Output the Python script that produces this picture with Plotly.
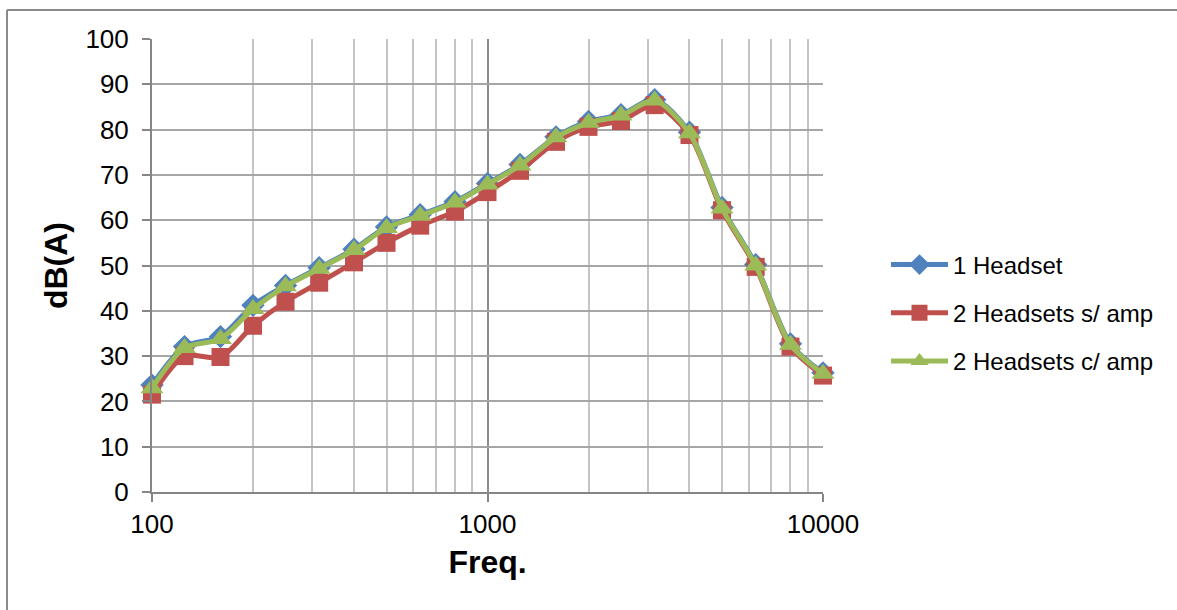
import plotly.graph_objects as go

freq = [100, 125, 160, 200, 250, 315, 400, 500, 630, 800, 1000, 1250, 1600,
        2000, 2500, 3150, 4000, 5000, 6300, 8000, 10000]
one_headset = [23.6, 32.1, 34.3, 41.2, 45.6, 49.5, 53.6, 58.5, 61.2, 64.1, 68.1,
               72.3, 78.4, 81.8, 83.3, 86.6, 79.4, 62.8, 50.2, 32.7, 26.3]
two_sem_amp = [21.5, 30.0, 29.8, 36.7, 42.0, 46.2, 50.7, 55.0, 58.8, 61.9, 66.2,
               70.9, 77.3, 80.6, 81.9, 85.4, 78.8, 62.2, 49.7, 32.1, 25.7]
two_com_amp = [22.9, 31.8, 33.8, 40.4, 45.4, 49.3, 53.4, 58.3, 61.0, 63.9, 67.9,
               72.1, 78.3, 81.5, 83.1, 86.4, 79.2, 62.6, 50.0, 32.5, 26.1]

series_names = ["1 Headset", "2 Headsets s/ amp", "2 Headsets c/ amp"]
x_major = [100, 1000, 10000]
x_minor = [200, 300, 400, 500, 600, 700, 800, 900,
           2000, 3000, 4000, 5000, 6000, 7000, 8000, 9000]
y_ticks = list(range(0, 101, 10))

W, H = 1177, 610
L, R, T, B = 152, 823, 39, 492

fig = go.Figure()
styles = [
    (one_headset, "#4F81BD", "diamond", 18),
    (two_sem_amp, "#C0504D", "square", 18),
    (two_com_amp, "#9BBB59", "triangle-up", 20),
]
for i, (vals, col, sym, sz) in enumerate(styles):
    fig.add_trace(go.Scatter(
        x=freq, y=vals, name=series_names[i], mode="lines+markers",
        line=dict(color=col, width=5, shape="spline", smoothing=0.8),
        marker=dict(color=col, symbol=sym, size=sz, line=dict(width=0)),
        legendgroup=f"g{i}", cliponaxis=False,
    ))

def px_x(p):
    return (p - L) / (R - L)

def px_y(p):
    return (B - p) / (B - T)

fig.update_layout(
    width=W, height=H,
    margin=dict(l=L, r=W - R, t=T, b=H - B, pad=0),
    paper_bgcolor="white", plot_bgcolor="white",
    font=dict(family="Liberation Sans, Arial, sans-serif", color="#000000", size=26),
    showlegend=True,
    legend=dict(
        x=px_x(886), y=px_y(313), xanchor="left", yanchor="middle",
        font=dict(size=24, family="Liberation Sans, Arial, sans-serif"),
        traceorder="grouped", tracegroupgap=14,
        itemwidth=57, bgcolor="rgba(0,0,0,0)",
    ),
    xaxis=dict(
        type="log", range=[2, 4],
        tickvals=x_major, ticktext=[str(v) for v in x_major],
        tickfont=dict(size=26),
        ticks="outside", ticklen=8, tickcolor="#868686", tickwidth=2,
        showline=True, linecolor="#868686", linewidth=2,
        showgrid=True, gridcolor="#8c8c8c", gridwidth=2,
        minor=dict(tickvals=x_minor, showgrid=True, gridcolor="#c4c4c4",
                   gridwidth=2, ticks=""),
        title=dict(text="<b>Freq.</b>", font=dict(size=32), standoff=12),
        zeroline=False,
    ),
    yaxis=dict(
        range=[0, 100], tickvals=y_ticks,
        tickfont=dict(size=26),
        ticks="outside", ticklen=8, tickcolor="#868686", tickwidth=2,
        showline=True, linecolor="#868686", linewidth=2,
        showgrid=True, gridcolor="#a6a6a6", gridwidth=2,
        title=dict(text="<b>dB(A)</b>", font=dict(size=32), standoff=8),
        ticklabelstandoff=8,
        zeroline=False,
    ),
    shapes=[
        dict(type="line", xref="paper", yref="paper",
             x0=px_x(7), x1=px_x(1190), y0=px_y(10), y1=px_y(10),
             line=dict(color="#8a8a8a", width=2)),
        dict(type="line", xref="paper", yref="paper",
             x0=px_x(7), x1=px_x(7), y0=px_y(10), y1=px_y(620),
             line=dict(color="#8a8a8a", width=2)),
    ],
)

fig.write_html("out.html", config={"displayModeBar": False},
               post_script="document.body.style.margin='0px';")
